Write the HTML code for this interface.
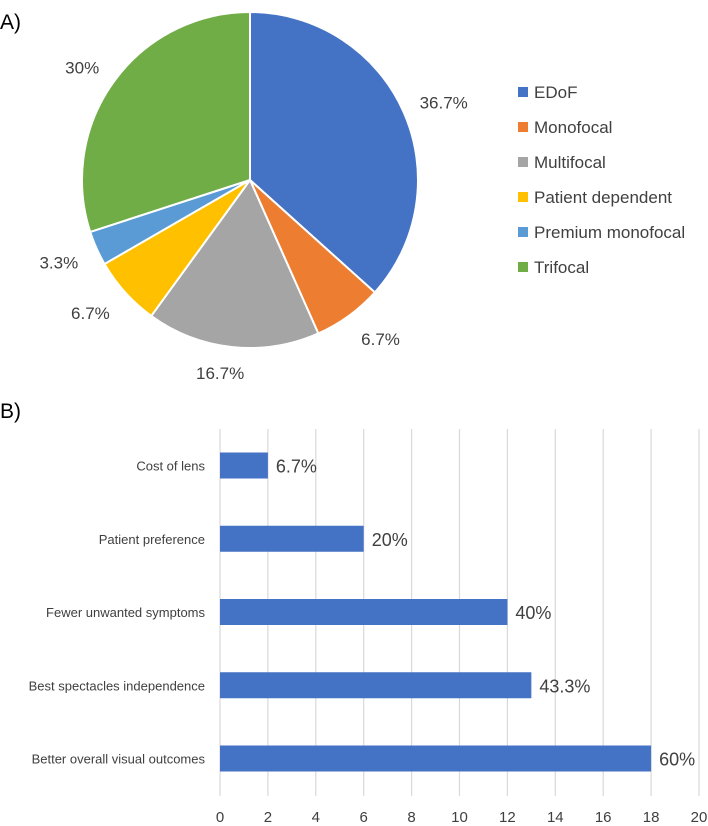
<!DOCTYPE html>
<html><head><meta charset="utf-8"><style>
body{margin:0;background:#fff;}
svg{display:block;font-family:"Liberation Sans",sans-serif;}
</style></head><body>
<svg id="c" width="708" height="826" viewBox="0 0 708 826">
<text x="0" y="29" font-size="21" fill="#000">A)</text>
<text x="0" y="418" font-size="21" fill="#000">B)</text>
<g id="pie"></g>
<g id="legend"></g>
<g id="bars"></g>
</svg>
<script>
const pieCategories=["EDoF","Monofocal","Multifocal","Patient dependent","Premium monofocal","Trifocal"];
const pieValues=[11,2,5,2,1,9];
const pieLabels=["36.7%","6.7%","16.7%","6.7%","3.3%","30%"];
const barCategories=["Cost of lens","Patient preference","Fewer unwanted symptoms","Best spectacles independence","Better overall visual outcomes"];
const barValues=[2,6,12,13,18];
const barLabels=["6.7%","20%","40%","43.3%","60%"];
const xTicks=[0,2,4,6,8,10,12,14,16,18,20];

const NS="http://www.w3.org/2000/svg";
const colors=["#4472C4","#ED7D31","#A5A5A5","#FFC000","#5B9BD5","#70AD47"];
const labelNudge=[[11,4],[13,-3],[-9,-6],[-5,-6],[8,-6],[-6,5]];
function mk(t,a,p){const e=document.createElementNS(NS,t);for(const k in a)e.setAttribute(k,a[k]);p.appendChild(e);return e;}
const pie=document.getElementById('pie');
const cx=250,cy=180,r=168;
const total=pieValues.reduce((a,b)=>a+b,0);
let ang=0;
pieValues.forEach((v,i)=>{
  const a0=ang,a1=ang+v/total*2*Math.PI;ang=a1;
  const x0=cx+r*Math.sin(a0),y0=cy-r*Math.cos(a0),x1=cx+r*Math.sin(a1),y1=cy-r*Math.cos(a1);
  const large=(a1-a0)>Math.PI?1:0;
  const p=mk('path',{d:`M${cx},${cy}L${x0},${y0}A${r},${r} 0 ${large} 1 ${x1},${y1}Z`,fill:colors[i],stroke:'#fff','stroke-width':2},pie);
  
  
  const m=(a0+a1)/2;
  let lr=r+(i===4?50:i===3?40:32);
  const lx=cx+lr*Math.sin(m)+labelNudge[i][0],ly=cy-lr*Math.cos(m)+labelNudge[i][1];
  const t=mk('text',{x:lx,y:ly+6,'font-size':17,fill:'#404040','text-anchor':'middle'},pie);
  t.textContent=pieLabels[i];
  
  
});
const lg=document.getElementById('legend');
pieCategories.forEach((c,i)=>{
  const y=92+35*i;
  const s=mk('rect',{x:518,y:y-5,width:10,height:10,fill:colors[i]},lg);
  
  
  const t=mk('text',{x:534,y:y+6,'font-size':17,fill:'#404040'},lg);
  t.textContent=c;
  
  
});
const bg=document.getElementById('bars');
const X0=220,X1=699,xmax=20;
const xs=v=>X0+v/xmax*(X1-X0);
const yTop=429,yBot=796,band=73.25,firstC=465.5,bh=26;
xTicks.forEach(v=>{
  const l=mk('line',{x1:xs(v),x2:xs(v),y1:yTop,y2:yBot,stroke:'#d9d9d9','stroke-width':1.2},bg);
  
  
  const t=mk('text',{x:xs(v),y:822,'font-size':15,fill:'#404040','text-anchor':'middle'},bg);
  t.textContent=v;
  
  
});
barValues.forEach((v,i)=>{
  const c=firstC+band*i;
  const b=mk('rect',{x:X0,y:c-bh/2,width:xs(v)-X0,height:bh,fill:'#4472C4'},bg);
  
  
  const t=mk('text',{x:xs(v)+8,y:c+7,'font-size':18,fill:'#404040'},bg);
  t.textContent=barLabels[i];
  
  
  const ct=mk('text',{x:205,y:c+5,'font-size':13,fill:'#404040','text-anchor':'end'},bg);
  ct.textContent=barCategories[i];
  
  
});
</script>
</body></html>
